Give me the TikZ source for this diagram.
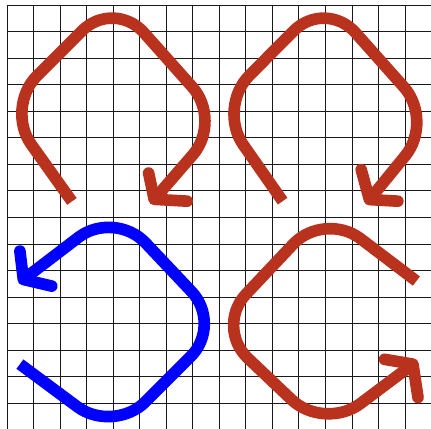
\documentclass[tikz,border=0pt]{standalone}
\definecolor{loopred}{RGB}{184,50,30}
\definecolor{loopblue}{RGB}{0,0,255}
\begin{document}
\begin{tikzpicture}[line join=round,
  gridline/.style={line width=0.8pt,black!90},
  loopline/.style={line width=12.5pt,rounded corners=1.7cm},
  barbline/.style={line width=12.5pt,line cap=round}]
  \useasboundingbox (-0.26,0.04) rectangle (15.98,16.19);

  % 方格纸
  \draw[gridline] (0,0) grid (16,16);

  % 左上 (红, 顺时针)
  \coordinate (S1) at (2.45,8.60);
  \coordinate (L1) at (-0.07,12.13);
  \coordinate (T1) at (4.03,16.23);
  \coordinate (R1) at (8.12,11.64);
  \coordinate (E1) at (5.55,8.68);
  \coordinate (P1) at (5.34,9.67);
  \coordinate (Q1) at (6.79,8.61);

  % 右上 (红, 顺时针)
  \coordinate (S2) at (10.39,8.61);
  \coordinate (L2) at (7.93,12.13);
  \coordinate (T2) at (12.00,16.23);
  \coordinate (R2) at (16.09,11.64);
  \coordinate (E2) at (13.66,8.67);
  \coordinate (P2) at (13.35,9.80);
  \coordinate (Q2) at (14.73,8.61);

  % 左下 (蓝, 逆时针)
  \coordinate (S3) at (0.49,2.47);
  \coordinate (B3) at (4.02,-0.15);
  \coordinate (R3) at (8.13,3.96);
  \coordinate (T3) at (4.05,8.28);
  \coordinate (E3) at (0.62,5.66);
  \coordinate (P3) at (0.49,6.73);
  \coordinate (Q3) at (1.69,5.41);

  % 右下 (红, 逆时针)
  \coordinate (S4) at (15.43,5.60);
  \coordinate (T4) at (11.96,8.23);
  \coordinate (L4) at (7.84,3.87);
  \coordinate (B4) at (11.96,-0.04);
  \coordinate (E4) at (15.30,2.47);
  \coordinate (P4) at (14.23,2.65);
  \coordinate (Q4) at (15.49,1.21);

  % 环线
  \draw[loopline,loopred] (S1) -- (L1) -- (T1) -- (R1) -- (E1);
  \draw[loopline,loopred] (S2) -- (L2) -- (T2) -- (R2) -- (E2);
  \draw[loopline,loopblue] (S3) -- (B3) -- (R3) -- (T3) -- (E3);
  \draw[loopline,loopred] (S4) -- (T4) -- (L4) -- (B4) -- (E4);

  % 箭头
  \draw[barbline,loopred] (P1) -- (E1) -- (Q1);
  \draw[barbline,loopred] (P2) -- (E2) -- (Q2);
  \draw[barbline,loopblue] (P3) -- (E3) -- (Q3);
  \draw[barbline,loopred] (P4) -- (E4) -- (Q4);
\end{tikzpicture}
\end{document}
